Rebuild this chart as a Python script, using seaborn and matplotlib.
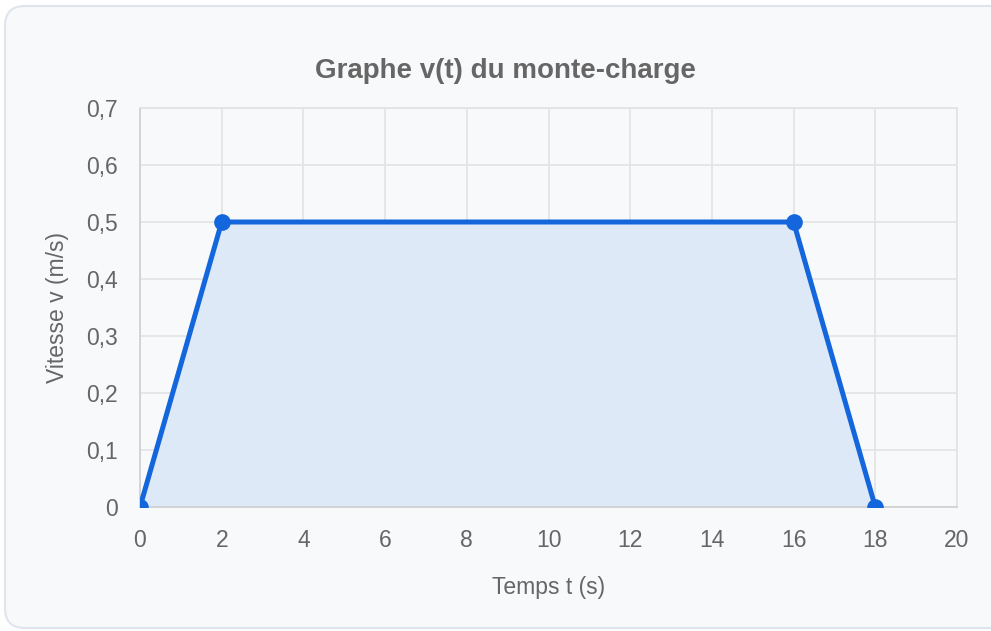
import pandas as pd
import seaborn as sns
from matplotlib import pyplot as plt
from matplotlib.patches import FancyBboxPatch
from matplotlib.ticker import FuncFormatter

# data
temps = [0, 2, 16, 18]
vitesse = [0, 0.5, 0.5, 0]
x_ticks = [0, 2, 4, 6, 8, 10, 12, 14, 16, 18, 20]
y_ticks = [0, 0.1, 0.2, 0.3, 0.4, 0.5, 0.6, 0.7]

title = "Graphe v(t) du monte-charge"
x_label = "Temps t (s)"
y_label = "Vitesse v (m/s)"

line_color = "#1466dc"
fill_color = "#dde9f7"
text_color = "#666666"
grid_color = "#e3e3e3"
card_color = "#f8f9fb"

df = pd.DataFrame({"t": temps, "v": vitesse})

sns.set_style("white")
plt.rcParams["font.family"] = ["Liberation Sans", "DejaVu Sans"]

fig = plt.figure(figsize=(9.91, 6.31), dpi=100)
fig.patch.set_facecolor("white")

# rounded card behind the chart
card = FancyBboxPatch((5 / 991, 3 / 631), 1.05, 622 / 631,
                      boxstyle="round,pad=0,rounding_size=0.02",
                      transform=fig.transFigure, facecolor=card_color,
                      edgecolor="#dfe5ec", linewidth=1.5, zorder=-1,
                      mutation_aspect=991 / 631)
fig.patches.append(card)

ax = fig.add_axes([140 / 991, 1 - 507 / 631, 817 / 991, 399 / 631])
ax.set_facecolor(card_color)

ax.fill_between(df["t"], df["v"], 0, color=fill_color, zorder=1, linewidth=0)
sns.lineplot(data=df, x="t", y="v", ax=ax, color=line_color, linewidth=3.6,
             marker="o", markersize=12, markeredgewidth=0, zorder=3)

ax.set_xlim(0, 20)
ax.set_ylim(0, 0.7)
ax.set_xticks(x_ticks)
ax.set_yticks(y_ticks)
ax.yaxis.set_major_formatter(FuncFormatter(lambda v, _: f"{v:g}".replace(".", ",")))

ax.grid(True, color=grid_color, linewidth=1.2, zorder=0)
ax.set_axisbelow(True)
for side in ["top", "right"]:
    ax.spines[side].set_color(grid_color)
    ax.spines[side].set_linewidth(1.2)
for side in ["left", "bottom"]:
    ax.spines[side].set_color("#cfcfcf")
    ax.spines[side].set_linewidth(1.2)

ax.tick_params(axis="both", length=8, width=1.2, color=grid_color,
               labelcolor=text_color, labelsize=16.5)
ax.tick_params(axis="x", pad=8)
ax.tick_params(axis="y", pad=8)

ax.set_xlabel(x_label, color=text_color, fontsize=16.5, labelpad=17)
ax.set_ylabel(y_label, color=text_color, fontsize=16.5, labelpad=12)
fig.text(505 / 991, 1 - 71 / 631, title, color="#666666", fontsize=20,
         fontweight="bold", ha="center", va="center")

fig.savefig("out.png", dpi=100, facecolor=fig.get_facecolor())
